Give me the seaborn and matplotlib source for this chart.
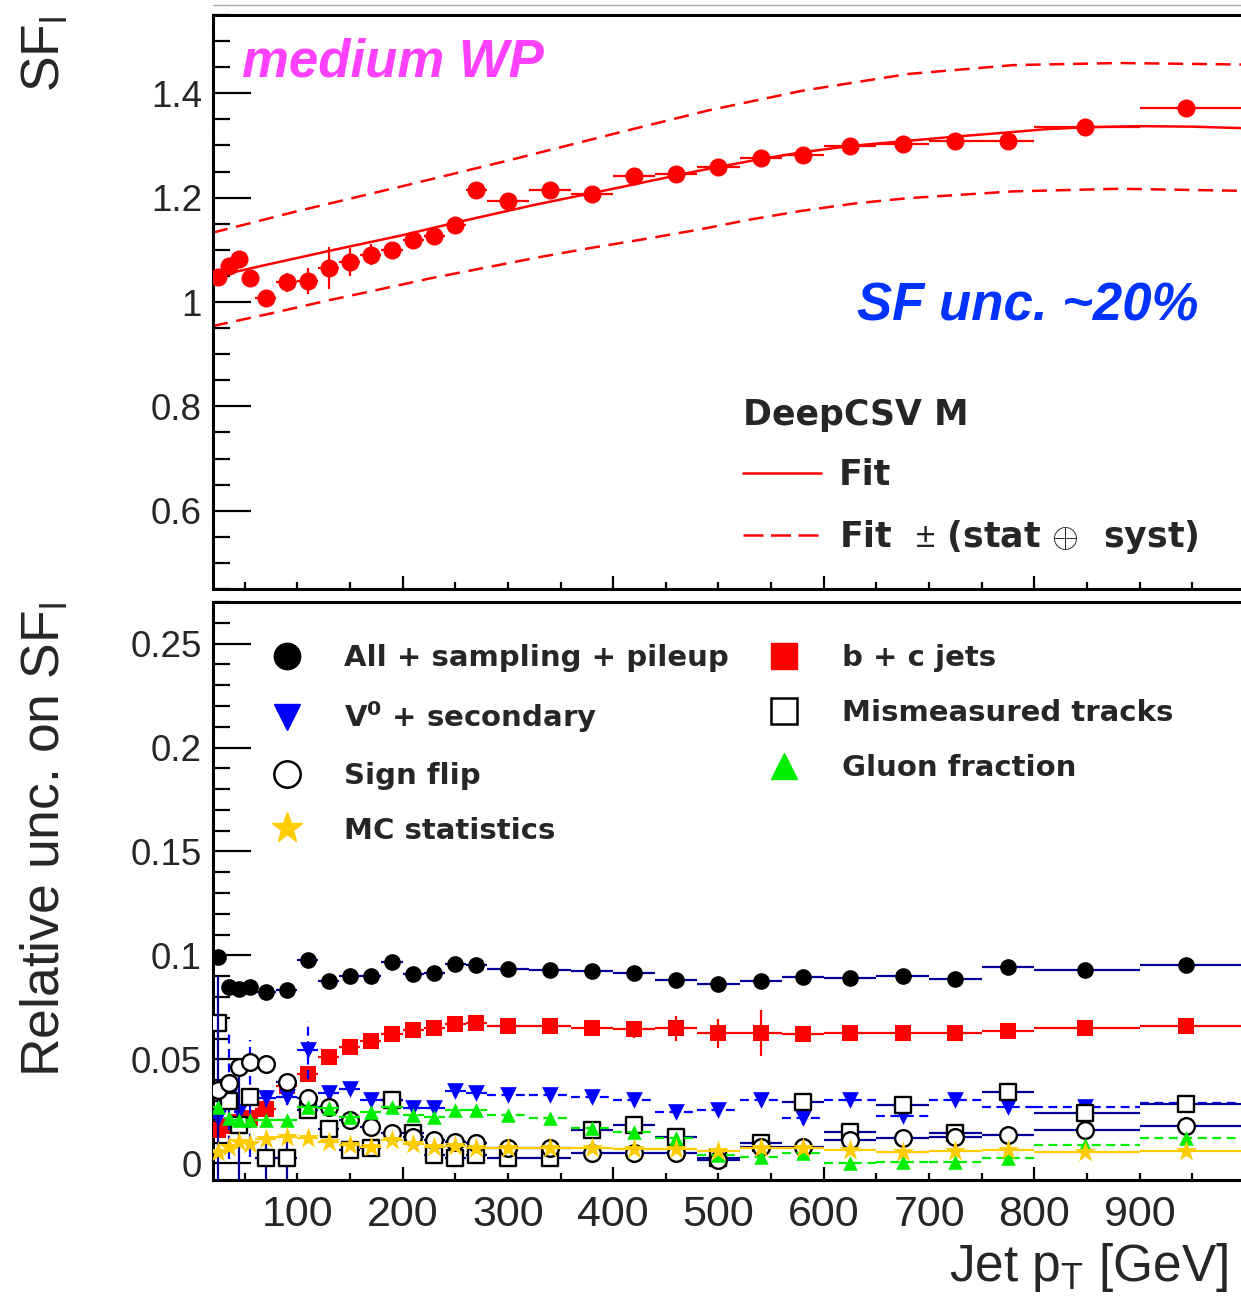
import numpy as np
import pandas as pd
import matplotlib
matplotlib.use("Agg")
import matplotlib.pyplot as plt
from matplotlib.lines import Line2D
from matplotlib.ticker import MultipleLocator, FuncFormatter
import seaborn as sns

# ---------------------------------------------------------------- binning
pt_lo = [20, 30, 40, 50, 60, 80, 100, 120, 140, 160, 180, 200, 220, 240, 260,
         280, 320, 360, 400, 440, 480, 520, 560, 600, 650, 700, 750, 800, 900]
pt_hi = [30, 40, 50, 60, 80, 100, 120, 140, 160, 180, 200, 220, 240, 260, 280,
         320, 360, 400, 440, 480, 520, 560, 600, 650, 700, 750, 800, 900, 1000]
pt = [25, 35, 45, 55, 70, 90, 110, 130, 150, 170, 190, 210, 230, 250, 270,
      300, 340, 380, 420, 460, 500, 540, 580, 625, 675, 725, 775, 848, 944]

# ---------------------------------------------------------------- light-jet scale factor
sf_light = [1.048, 1.069, 1.082, 1.046, 1.008, 1.038, 1.040, 1.065, 1.076, 1.091,
            1.100, 1.118, 1.126, 1.148, 1.215, 1.193, 1.215, 1.207, 1.241, 1.245,
            1.258, 1.276, 1.282, 1.299, 1.303, 1.309, 1.309, 1.336, 1.371]
sf_light_err = [0.004, 0.004, 0.004, 0.004, 0.004, 0.018, 0.025, 0.040, 0.027, 0.020,
                0.008, 0.006, 0.006, 0.006, 0.005, 0.005, 0.005, 0.005, 0.005, 0.005,
                0.005, 0.005, 0.005, 0.005, 0.005, 0.005, 0.005, 0.005, 0.005]

fit_pt = [20, 70, 135, 200, 250, 325, 400, 480, 540, 580, 625, 675, 725, 775,
          810, 850, 900, 950, 1000]
fit_sf = [1.048, 1.071, 1.100, 1.128, 1.152, 1.186, 1.217, 1.251, 1.274, 1.287,
          1.299, 1.308, 1.317, 1.325, 1.331, 1.335, 1.337, 1.336, 1.333]

band_up_pt = [20, 100, 200, 300, 400, 490, 580, 680, 780, 880, 1000]
band_up_sf = [1.133, 1.174, 1.222, 1.271, 1.322, 1.367, 1.405, 1.437, 1.454, 1.458, 1.455]
band_dn_pt = [20, 77, 127, 178, 228, 279, 330, 380, 431, 482, 530, 580, 630, 680,
              780, 880, 1000]
band_dn_sf = [0.954, 0.979, 1.002, 1.024, 1.046, 1.066, 1.086, 1.104, 1.121, 1.139,
              1.158, 1.175, 1.189, 1.199, 1.212, 1.217, 1.213]

# ---------------------------------------------------------------- relative uncertainties
unc_all = [0.0993, 0.0846, 0.0841, 0.0849, 0.0825, 0.0836, 0.0977, 0.0877, 0.0900, 0.0900,
           0.0969, 0.0910, 0.0916, 0.0961, 0.0953, 0.0937, 0.0929, 0.0924, 0.0918, 0.0881,
           0.0862, 0.0877, 0.0894, 0.0892, 0.0900, 0.0889, 0.0945, 0.0929, 0.0953]
unc_all_err = [0.002] * 29

unc_bc = [0.016, 0.018, 0.020, 0.022, 0.026, 0.037, 0.043, 0.051, 0.056, 0.059,
          0.062, 0.064, 0.065, 0.067, 0.0675, 0.066, 0.066, 0.065, 0.0645, 0.065,
          0.0625, 0.0627, 0.0621, 0.0629, 0.0625, 0.0629, 0.0636, 0.0649, 0.066]
unc_bc_err = [0.002, 0.002, 0.002, 0.002, 0.002, 0.002, 0.002, 0.002, 0.002, 0.002,
              0.002, 0.002, 0.002, 0.002, 0.002, 0.002, 0.002, 0.002, 0.004, 0.006,
              0.007, 0.011, 0.003, 0.003, 0.003, 0.003, 0.003, 0.003, 0.003]

unc_v0 = [0.0216, 0.032, 0.0248, 0.0312, 0.0312, 0.032, 0.0544, 0.0339, 0.036, 0.0304,
          0.0307, 0.0264, 0.0264, 0.0349, 0.0339, 0.0328, 0.0328, 0.032, 0.0304, 0.0248,
          0.0256, 0.0304, 0.0216, 0.0307, 0.023, 0.0304, 0.0272, 0.0272, 0.0288]
unc_v0_err = [0.004, 0.030, 0.004, 0.028, 0.004, 0.004, 0.014, 0.003, 0.003, 0.003,
              0.003, 0.003, 0.003, 0.003, 0.003, 0.003, 0.003, 0.003, 0.003, 0.003,
              0.003, 0.003, 0.003, 0.003, 0.003, 0.003, 0.003, 0.003, 0.003]

unc_mis = [0.0673, 0.030, 0.0184, 0.032, 0.0024, 0.0024, 0.0256, 0.0165, 0.0063, 0.0072,
           0.0307, 0.0144, 0.0039, 0.0024, 0.0039, 0.0024, 0.0024, 0.016, 0.0186, 0.0125,
           0.0024, 0.0096, 0.0296, 0.0151, 0.028, 0.0144, 0.0344, 0.024, 0.0285]
unc_mis_err = [0.003, 0.003, 0.031, 0.003, 0.010, 0.010, 0.003, 0.003, 0.003, 0.003,
               0.003, 0.003, 0.003, 0.003, 0.003, 0.003, 0.003, 0.003, 0.003, 0.003,
               0.003, 0.003, 0.003, 0.003, 0.003, 0.003, 0.003, 0.003, 0.003]

unc_flip = [0.0352, 0.0387, 0.0464, 0.0488, 0.048, 0.0392, 0.0312, 0.0272, 0.0208, 0.0176,
            0.0144, 0.0128, 0.0112, 0.0104, 0.0096, 0.0076, 0.0076, 0.0048, 0.0048, 0.0048,
            0.0015, 0.0079, 0.0079, 0.0112, 0.012, 0.0128, 0.0136, 0.016, 0.0179]
unc_flip_err = [0.055, 0.003, 0.003, 0.003, 0.003, 0.003, 0.003, 0.003, 0.003, 0.003,
                0.003, 0.003, 0.003, 0.003, 0.003, 0.003, 0.003, 0.003, 0.003, 0.003,
                0.003, 0.003, 0.003, 0.003, 0.003, 0.003, 0.003, 0.003, 0.003]

unc_gluon = [0.027, 0.022, 0.0208, 0.0208, 0.021, 0.0208, 0.027, 0.0264, 0.0224, 0.0248,
             0.027, 0.0232, 0.0224, 0.0256, 0.0256, 0.0232, 0.0216, 0.0168, 0.015, 0.012,
             0.004, 0.0031, 0.0048, 0.0, 0.0007, 0.0007, 0.0024, 0.0088, 0.012]
unc_gluon_err = [0.002] * 29

unc_mcstat = [0.0055, 0.0079, 0.0103, 0.0095, 0.0115, 0.0127, 0.012, 0.0103, 0.0088, 0.0079,
              0.0112, 0.0095, 0.0079, 0.0082, 0.0072, 0.0072, 0.0072, 0.0072, 0.0067, 0.0067,
              0.006, 0.0076, 0.0076, 0.0063, 0.0055, 0.006, 0.0063, 0.0055, 0.006]
unc_mcstat_err = [0.001] * 29

# ---------------------------------------------------------------- style
sns.set_theme(style="ticks")
plt.rcParams["font.family"] = ["Liberation Sans", "DejaVu Sans"]
plt.rcParams["mathtext.fontset"] = "custom"
plt.rcParams["mathtext.rm"] = "Liberation Sans"
plt.rcParams["axes.linewidth"] = 2.2

RED = "#ff0000"
BLUE = "#0000ff"
NAVY = "#000099"
GREEN = "#00ee00"
GOLD = "#ffcc00"

W, H = 1241, 1315
fig = plt.figure(figsize=(W / 100, H / 100), dpi=100)


def axes_px(left, top, right, bottom):
    return fig.add_axes([left / W, 1 - bottom / H, (right - left) / W, (bottom - top) / H])


ax_sf = axes_px(213, 15, 1245, 589)
ax_unc = axes_px(213, 602, 1245, 1180)

xerr = [np.array(pt) - np.array(pt_lo), np.array(pt_hi) - np.array(pt)]


def draw_points(ax, values, errors, marker, size, face, edge, ecolor,
                estyle="-", mew=0.0, z=3):
    eb = ax.errorbar(pt, values, xerr=xerr, yerr=errors, fmt="none", ecolor=ecolor,
                     elinewidth=1.6, capsize=0, zorder=z)
    if estyle != "-":
        for lc in eb[2]:
            lc.set_linestyle(estyle)
    frame = pd.DataFrame({"pt": pt, "value": values})
    sns.scatterplot(data=frame, x="pt", y="value", ax=ax, marker=marker, s=size ** 2,
                    facecolor=face, edgecolor=edge, linewidth=mew, zorder=z + 0.5,
                    legend=False)


# ---------------------------------------------------------------- upper panel
sns.lineplot(x=band_up_pt, y=band_up_sf, ax=ax_sf, color=RED, lw=1.8,
             linestyle=(0, (6, 3.5)), estimator=None, sort=False, zorder=2)
sns.lineplot(x=band_dn_pt, y=band_dn_sf, ax=ax_sf, color=RED, lw=1.8,
             linestyle=(0, (6, 3.5)), estimator=None, sort=False, zorder=2)
sns.lineplot(x=fit_pt, y=fit_sf, ax=ax_sf, color=RED, lw=1.8,
             estimator=None, sort=False, zorder=2)
draw_points(ax_sf, sf_light, sf_light_err, "o", 13, RED, RED, RED)

ax_sf.set_xlim(20, 1000)
ax_sf.set_ylim(0.45, 1.55)
ax_sf.yaxis.set_major_locator(MultipleLocator(0.2))
ax_sf.yaxis.set_minor_locator(MultipleLocator(0.05))

ax_sf.text(0.028, 0.8937, "medium WP", transform=ax_sf.transAxes, color="#ff40ff",
           fontsize=38, fontweight="bold", fontstyle="italic", va="baseline", ha="left")
ax_sf.text(0.624, 0.4686, "SF unc. ~20%", transform=ax_sf.transAxes, color="#0033ff",
           fontsize=38, fontweight="bold", fontstyle="italic", va="baseline", ha="left")

fit_handles = [Line2D([], [], color=RED, lw=1.8),
               Line2D([], [], color=RED, lw=1.8, linestyle=(0, (8, 3)))]
leg_top = ax_sf.legend(fit_handles,
                       ["Fit", "Fit  $\\pm$ (stat $\\oplus$  syst)"],
                       title="DeepCSV M", loc="upper left",
                       bbox_to_anchor=(0.5136, 0.333), frameon=False, borderpad=0,
                       borderaxespad=0, handlelength=2.25, handletextpad=0.5,
                       labelspacing=0.75, alignment="left",
                       prop={"family": "DejaVu Sans", "weight": "bold", "size": 25})
leg_top.get_title().set_fontproperties(
    {"family": "DejaVu Sans", "weight": "bold", "size": 25})

# ---------------------------------------------------------------- lower panel
draw_points(ax_unc, unc_all, unc_all_err, "o", 12, "black", "black", NAVY, z=3)
draw_points(ax_unc, unc_bc, unc_bc_err, "s", 11.5, RED, RED, RED, z=4)
draw_points(ax_unc, unc_v0, unc_v0_err, "v", 12, BLUE, BLUE, BLUE,
            estyle=(0, (4, 2.5)), z=5)
draw_points(ax_unc, unc_mis, unc_mis_err, "s", 12, "white", "black", NAVY, mew=1.7, z=6)
draw_points(ax_unc, unc_flip, unc_flip_err, "o", 12, "white", "black", NAVY, mew=1.7, z=7)
draw_points(ax_unc, unc_gluon, unc_gluon_err, "^", 10.5, GREEN, GREEN, GREEN,
            estyle=(0, (4, 2.5)), z=8)
draw_points(ax_unc, unc_mcstat, unc_mcstat_err, "*", 16, GOLD, GOLD, GOLD, z=9)

ax_unc.set_xlim(20, 1000)
ax_unc.set_ylim(-0.008, 0.27)
ax_unc.yaxis.set_major_locator(MultipleLocator(0.05))
ax_unc.yaxis.set_minor_locator(MultipleLocator(0.01))

legend_items = [
    ("All + sampling + pileup", dict(marker="o", color="black")),
    ("V$^\\mathregular{0}$ + secondary", dict(marker="v", color=BLUE)),
    ("Sign flip", dict(marker="o", markerfacecolor="white", markeredgecolor="black",
                       markeredgewidth=1.8)),
    ("MC statistics", dict(marker="*", color=GOLD, markersize=23)),
    ("b + c jets", dict(marker="s", color=RED)),
    ("Mismeasured tracks", dict(marker="s", markerfacecolor="white",
                                markeredgecolor="black", markeredgewidth=1.8)),
    ("Gluon fraction", dict(marker="^", color=GREEN)),
]
unc_handles = []
for _, style in legend_items:
    style = dict(style)
    style.setdefault("markersize", 19)
    unc_handles.append(Line2D([], [], linestyle="none", **style))
ax_unc.legend(unc_handles, [name for name, _ in legend_items], ncol=2,
              loc="upper left", bbox_to_anchor=(0.0572, 0.927), frameon=False,
              borderpad=0, borderaxespad=0, handlelength=1.0, handletextpad=1.48,
              columnspacing=1.38, labelspacing=0.92,
              prop={"family": "DejaVu Sans", "weight": "bold", "size": 21})

# ---------------------------------------------------------------- axes cosmetics
def value_label(v, _pos):
    v = round(v, 4)
    return "0" if v == 0 else f"{v:g}"


def pt_major_label(v, _pos):
    return f"{v:g}" if v < 999 else ""


def pt_minor_label(v, _pos):
    return f"{v:g}" if abs(v % 100) < 1e-6 and v < 999 else ""


for ax in (ax_sf, ax_unc):
    ax.set_facecolor("white")
    for side in ("left", "bottom", "top", "right"):
        ax.spines[side].set_color("black")
        ax.spines[side].set_linewidth(2.2)
    ax.xaxis.set_major_locator(MultipleLocator(200))
    ax.xaxis.set_minor_locator(MultipleLocator(50))
    ax.yaxis.set_major_formatter(FuncFormatter(value_label))
    ax.tick_params(which="both", direction="in", top=False, right=False,
                   color="black", width=1.6)
    ax.tick_params(axis="y", which="major", length=27, labelsize=26.5, pad=8)
    ax.tick_params(axis="y", which="minor", length=12.5)
    ax.tick_params(axis="x", which="major", length=9.5)
    ax.tick_params(axis="x", which="minor", length=5)
    ax.set_xlabel("")
    ax.set_ylabel("")

ax_sf.tick_params(axis="x", which="both", labelbottom=False)
ax_unc.xaxis.set_major_formatter(FuncFormatter(pt_major_label))
ax_unc.xaxis.set_minor_formatter(FuncFormatter(pt_minor_label))
ax_unc.tick_params(axis="x", which="both", labelsize=31, pad=11)

ax_sf.set_ylabel("SF$_\\mathregular{l}$", fontsize=38.5, loc="top")
ax_sf.yaxis.set_label_coords(-0.138, 1.0)
ax_unc.set_ylabel("Relative unc. on SF$_\\mathregular{l}$", fontsize=38.5, loc="top")
ax_unc.yaxis.set_label_coords(-0.138, 1.0)
ax_unc.set_xlabel("Jet p$_\\mathregular{T}$ [GeV]", fontsize=37, loc="right")
ax_unc.xaxis.set_label_coords(0.9835, -0.105)

fig.add_artist(Line2D([213 / W, 1.0], [1 - 5 / H, 1 - 5 / H], color="#aaaaaa", lw=1.0))

fig.savefig("out.png", dpi=100, facecolor="white")
